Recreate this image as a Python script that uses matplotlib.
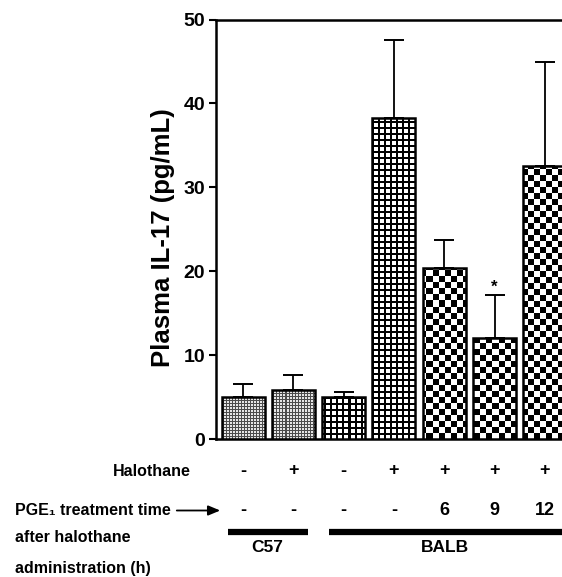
import numpy as np
import matplotlib
matplotlib.use("Agg")
import matplotlib.pyplot as plt
import matplotlib.transforms as mtrans
from matplotlib.lines import Line2D
from matplotlib.patches import FancyArrowPatch

# ---- data ----
values = [5.0, 5.85, 4.95, 38.3, 20.4, 12.0, 32.5]
errors = [1.55, 1.8, 0.7, 9.2, 3.3, 5.2, 12.45]
halothane = ["-", "+", "-", "+", "+", "+", "+"]
pge_time = ["-", "-", "-", "-", "6", "9", "12"]
patterns = ["stipple", "stipple", "grid", "grid", "checker", "checker", "checker"]
groups = [("C57", 0, 1), ("BALB", 2, 6)]
yticks = [0, 10, 20, 30, 40, 50]
ylabel = "Plasma IL-17 (pg/mL)"
significant = [5]

plt.rcParams["font.family"] = ["Liberation Sans", "DejaVu Sans"]
plt.rcParams["font.weight"] = "bold"

W, H = 562, 577
fig = plt.figure(figsize=(W / 100, H / 100), dpi=100)
ax_left, ax_bottom_px, ax_top_px = 216, 439, 19.5
ax = fig.add_axes([ax_left / W, 1 - ax_bottom_px / H, 1 - ax_left / W,
                   (ax_bottom_px - ax_top_px) / H])

x = np.arange(len(values))
xlim = (-0.537, 6.342)
ylim = (0, 50)
width = 0.855

bars = ax.bar(x, values, width=width, color="white", edgecolor="none", zorder=3)

# pixel-level fill textures
nx, ny = W - ax_left, int(round(ax_bottom_px - ax_top_px))
py, px = np.indices((ny, nx))
textures = {
    "stipple": np.where((px % 3 == 0) | (py % 3 == 0), 0.3, 0.9),
    "grid": np.where((px % 6 < 2) | (py % 6 < 2), 0.0, 1.0),
    "checker": ((px // 6 + py // 6) % 2).astype(float),
}
for b, p in zip(bars, patterns):
    im = ax.imshow(textures[p], extent=(xlim[0], xlim[1], ylim[0], ylim[1]),
                   aspect="auto", interpolation="nearest", cmap="gray",
                   vmin=0, vmax=1, zorder=3.5)
    im.set_clip_path(b)
# outlines on top
ax.bar(x, values, width=width, fill=False, edgecolor="black", linewidth=1.8, zorder=4)

ax.errorbar(x, values, yerr=[np.zeros(len(errors)), errors], fmt="none",
            ecolor="black", elinewidth=1.3, capsize=7.5, capthick=1.4, zorder=2)
for i in significant:
    ax.annotate("*", (x[i], values[i] + errors[i]), xytext=(0, 0),
                textcoords="offset points", ha="center", va="bottom",
                fontsize=12, fontweight="bold")

ax.set_xlim(*xlim)
ax.set_ylim(*ylim)
ax.set_yticks(yticks)
ax.set_yticklabels([str(t) for t in yticks], fontsize=14, fontweight="bold")
ax.set_xticks([])
ax.tick_params(axis="y", direction="out", length=5, width=1.5, pad=3)
for s in ["left", "top", "bottom"]:
    ax.spines[s].set_linewidth(1.8)
ax.spines["right"].set_visible(False)
ax.set_ylabel(ylabel, fontsize=18.5, fontweight="bold", va="center")
ax.yaxis.set_label_coords((163 - ax_left) / nx, (ax_bottom_px - 238) / (ax_bottom_px - ax_top_px))

# bottom annotation rows
def fy(pyv):
    return 1 - pyv / H

fs = 11.5
fig.text(191 / W, fy(471), "Halothane", ha="right", va="center", fontsize=fs)
fig.text(15 / W, fy(510.5), "PGE\u2081 treatment time", ha="left", va="center", fontsize=fs)
fig.text(15 / W, fy(538), "after halothane", ha="left", va="center", fontsize=fs)
fig.text(15 / W, fy(568), "administration (h)", ha="left", va="center", fontsize=fs)
fig.add_artist(FancyArrowPatch(
    (174 / W, fy(510.5)), (223 / W, fy(510.5)), transform=fig.transFigure,
    arrowstyle="-|>,head_length=0.6,head_width=0.25", mutation_scale=12,
    color="black", linewidth=1.3))

btrans = mtrans.blended_transform_factory(ax.transData, fig.transFigure)
for xi, h, p in zip(x, halothane, pge_time):
    fig.text(xi, fy(471), h, transform=btrans, ha="center", va="center", fontsize=13)
    fig.text(xi, fy(510.5), p, transform=btrans, ha="center", va="center", fontsize=13)

for name, i0, i1 in groups:
    end = i1 + 0.29 if i1 < len(values) - 1 else i1 + 1.0
    ln = Line2D([i0 - 0.3, end], [fy(531.5), fy(531.5)], transform=btrans,
                color="black", linewidth=4.5, solid_capstyle="butt")
    fig.add_artist(ln)
    cx = (i0 + i1) / 2 - 0.02 if name == "C57" else 4.02
    fig.text(cx, fy(548), name, transform=btrans, ha="center", va="center", fontsize=12.5)

fig.savefig("out.png", dpi=100)
